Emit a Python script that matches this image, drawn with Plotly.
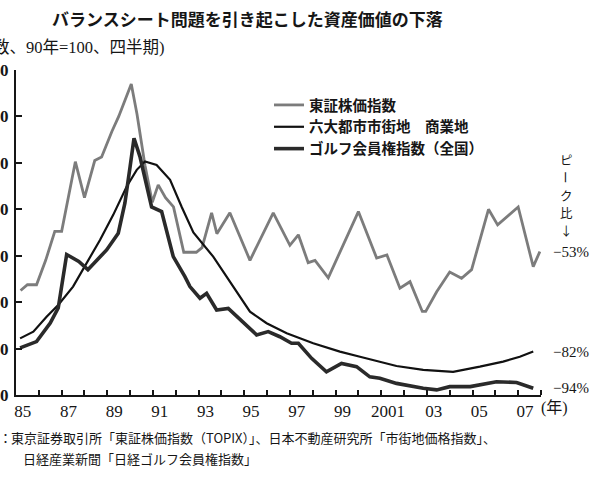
import plotly.graph_objects as go

# ---- data (quarterly index, 1990 = 100) ----
topix_t = [1985.2, 1985.5, 1985.9, 1986.3, 1986.7, 1987.0, 1987.6, 1988.0, 1988.45, 1988.75,
           1989.2, 1989.5, 1990.05, 1990.3, 1990.65, 1990.97, 1991.23, 1991.55, 1991.9, 1992.35,
           1992.9, 1993.15, 1993.57, 1993.8, 1994.37, 1995.25, 1996.27, 1997.0, 1997.37, 1997.8,
           1998.1, 1998.68, 2000.0, 2000.8, 2001.25, 2001.82, 2002.26, 2002.8, 2002.95, 2003.43,
           2004.0, 2004.52, 2004.96, 2005.7, 2006.1, 2007.0, 2007.66, 2007.95]
topix_v = [45, 47.5, 47.5, 58, 70.5, 70.5, 100.5, 85, 101, 102.5,
           113.5, 120, 134, 121, 99, 83, 90.5, 85, 81, 61.5,
           61.5, 63.5, 78.5, 69.5, 78.5, 58, 78.5, 64.5, 69, 57,
           58, 50.5, 79, 59, 60.3, 46, 48.8, 36, 36, 44.5,
           53, 50.3, 54, 80, 73.3, 81, 55.3, 61.8]

land_t = [1985.18, 1985.76, 1986.34, 1986.85, 1987.5, 1988.1, 1988.68, 1989.26, 1989.85, 1990.29,
          1990.65, 1991.16, 1991.75, 1992.26, 1992.77, 1993.64, 1994.52, 1995.25, 1995.98, 1996.86,
          1998.02, 1999.19, 2000.07, 2000.94, 2001.67, 2002.84, 2004.15, 2005.32, 2006.34, 2007.07,
          2007.66]
land_v = [24.4, 27.3, 33.7, 38.8, 46.7, 56.7, 66.8, 77.6, 89.8, 97,
          100.6, 99.1, 92.7, 81, 70, 59.6, 46.7, 35.9, 30.9, 26.6,
          22.3, 18.7, 16.5, 14.4, 12.5, 10.8, 10, 12.2, 14.4, 16.5,
          18.7]

golf_t = [1985.18, 1985.9, 1986.5, 1986.85, 1987.22, 1987.75, 1988.15, 1988.97, 1989.48, 1989.77,
          1990.0, 1990.17, 1990.43, 1990.94, 1991.38, 1991.89, 1992.4, 1992.62, 1993.06, 1993.35,
          1993.79, 1994.3, 1995.54, 1996.05, 1996.56, 1997.07, 1997.37, 1997.95, 1998.6, 1999.26,
          1999.92, 2000.5, 2000.94, 2001.67, 2002.84, 2003.43, 2004.0, 2004.9, 2006.05, 2006.93,
          2007.66]
golf_v = [20.3, 23, 31, 37.5, 60.5, 57.5, 54, 62.5, 69.7, 82.6,
          98.4, 110.6, 102.7, 81, 79, 59.6, 51, 46.7, 41.7, 43.8,
          36.6, 37.3, 25.9, 27.3, 25.1, 22.3, 22.3, 15.8, 10, 13.6,
          12.2, 7.8, 7.2, 5, 2.9, 2.2, 3.6, 3.6, 5.7, 5.4,
          2.9]

series_names = ["東証株価指数", "六大都市市街地　商業地", "ゴルフ会員権指数（全国）"]
end_labels = ["−53%", "−82%", "−94%"]

x_label_years = [1985, 1987, 1989, 1991, 1993, 1995, 1997, 1999, 2001, 2003, 2005, 2007]
x_label_text = ["85", "87", "89", "91", "93", "95", "97", "99", "2001", "03", "05", "07"]
y_ticks = [0, 20, 40, 60, 80, 100, 120, 140]

title_text = "バランスシート問題を引き起こした資産価値の下落"
unit_text = "（指数、90年=100、四半期)"
source_head = "資料："
source_line1 = "東京証券取引所「東証株価指数（TOPIX）」、日本不動産研究所「市街地価格指数」、"
source_line2 = "日経産業新聞「日経ゴルフ会員権指数」"
peak_chars = ["ピ", "ー", "ク", "比", "↓"]

JP = "Noto Sans CJK JP"
NUM = "Liberation Serif, Noto Sans CJK JP"
INK = "#161616"

fig = go.Figure()
fig.add_trace(go.Scatter(x=topix_t, y=topix_v, mode="lines", name=series_names[0],
                         line=dict(color="#7c7c7c", width=2.8)))
fig.add_trace(go.Scatter(x=land_t, y=land_v, mode="lines", name=series_names[1],
                         line=dict(color="#111111", width=2.2)))
fig.add_trace(go.Scatter(x=golf_t, y=golf_v, mode="lines", name=series_names[2],
                         line=dict(color="#2a2a2a", width=3.6)))

ann = []


def px_ann(text, x, y, xanchor="left", size=13, family=JP, weight="normal", angle=0):
    ann.append(dict(text=text, x=x, xref="paper", xanchor=xanchor, y=y, yref="paper",
                    yanchor="middle", showarrow=False, textangle=angle,
                    font=dict(family=family, size=size, color=INK, weight=weight)))


px_ann(title_text, 247, 18, "center", 17, JP, "bold")
px_ann(unit_text, 167, 47, "right", 16.5, NUM)
px_ann(source_head, 14, 437, "right", 13)
px_ann(source_line1, 9, 437, "left", 13)
px_ann(source_line2, 21, 458, "left", 13)
px_ann("(年)", 554, 408, "center", 16, NUM)
for ch, yy in zip(peak_chars, [159, 177, 195, 212, 230]):
    px_ann(ch, 566, yy, "center", 12.5, JP, "normal", 90 if ch == "ー" else 0)

# convert pixel-placed annotations into paper fractions
L, R, T, B = 16, 54, 70, 83
W, H = 595, 478
pw, ph = W - L - R, H - T - B
for a in ann:
    a["x"] = (a["x"] - L) / pw
    a["y"] = (H - B - a["y"]) / ph

for lab, vals in zip(end_labels, [topix_v, land_v, golf_v]):
    ann.append(dict(text=lab, x=(591 - L) / pw, xref="paper", xanchor="right", y=vals[-1], yref="y",
                    yanchor="middle", showarrow=False, font=dict(family=NUM, size=15, color=INK)))

fig.update_layout(
    width=W, height=H,
    margin=dict(l=L, r=R, t=T, b=B, autoexpand=False),
    paper_bgcolor="white", plot_bgcolor="white",
    showlegend=True,
    legend=dict(x=(269 - L) / pw, y=(395 - 89) / ph, xanchor="left", yanchor="top",
                bgcolor="rgba(0,0,0,0)", font=dict(family=JP, size=14.5, color=INK, weight="bold"),
                tracegroupgap=0, itemwidth=30),
    annotations=ann,
    xaxis=dict(range=[1985, 2008], showgrid=False, zeroline=False,
               showline=True, linecolor=INK, linewidth=2,
               tickmode="array", tickvals=[y + 0.3 for y in x_label_years], ticktext=x_label_text,
               ticks="", tickfont=dict(family=NUM, size=17, color=INK),
               minor=dict(tickmode="array", tickvals=list(range(1986, 2009)),
                          ticks="inside", ticklen=5, tickcolor=INK, tickwidth=1.5, showgrid=False)),
    yaxis=dict(range=[0, 140], showgrid=False, zeroline=False,
               showline=True, linecolor=INK, linewidth=2,
               tickmode="array", tickvals=y_ticks, ticktext=[str(v) for v in y_ticks],
               ticks="inside", ticklen=6, tickcolor=INK, tickwidth=1.5, ticklabelstandoff=2,
               tickfont=dict(family=NUM, size=17, color=INK, weight="bold")),
)

fig.write_html("out.html", config={"displayModeBar": False},
               post_script="document.body.style.margin='0px';")
